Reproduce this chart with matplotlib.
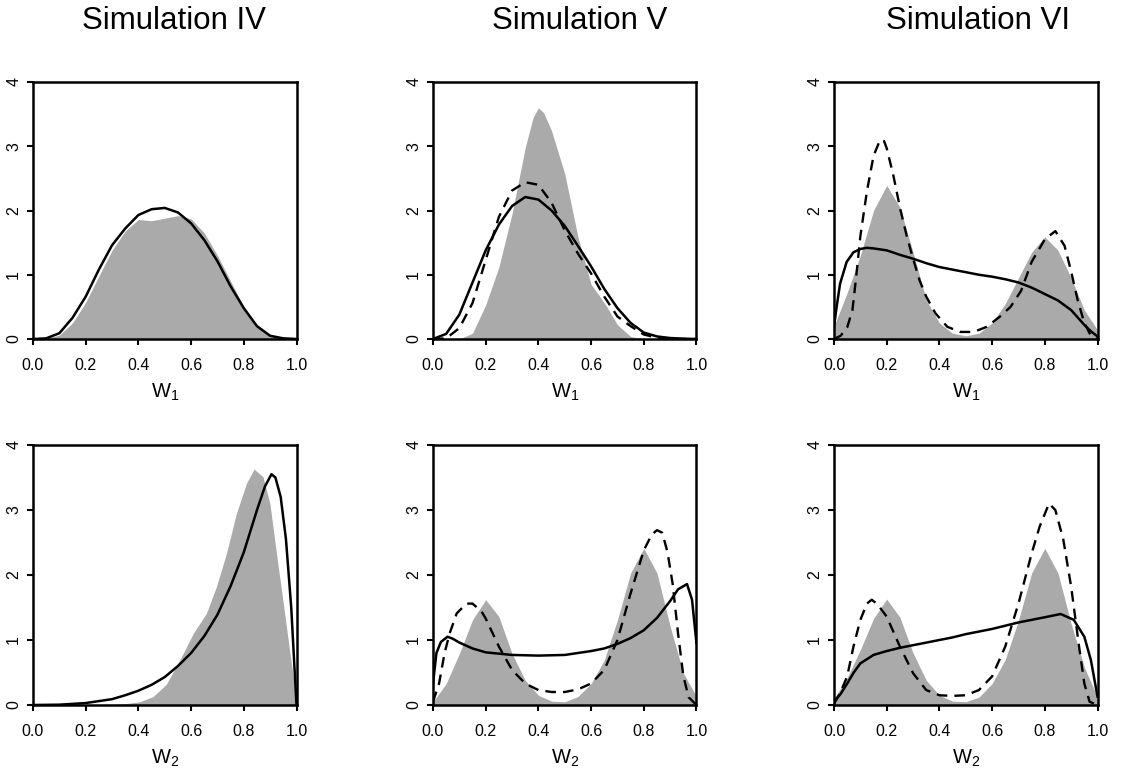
import numpy as np
import matplotlib
matplotlib.use("Agg")
import matplotlib.pyplot as plt

plt.rcParams['font.family'] = ['Liberation Sans', 'DejaVu Sans']
plt.rcParams['mathtext.default'] = 'regular'

titles = ["Simulation IV", "Simulation V", "Simulation VI"]
xlabels = ["W$_1$", "W$_2$"]
xticks = [0.0, 0.2, 0.4, 0.6, 0.8, 1.0]
xticklabels = ["0.0", "0.2", "0.4", "0.6", "0.8", "1.0"]
yticks = [0, 1, 2, 3, 4]

grid = [0, 0.05, 0.1, 0.15, 0.2, 0.25, 0.3, 0.35, 0.4, 0.45, 0.5,
        0.55, 0.6, 0.65, 0.7, 0.75, 0.8, 0.85, 0.9, 0.95, 1.0]

# Simulation IV, W1
iv1_fill = [0, 0.01, 0.06, 0.25, 0.57, 0.98, 1.38, 1.68, 1.86, 1.84, 1.88,
            1.92, 1.87, 1.65, 1.3, 0.9, 0.5, 0.2, 0.05, 0.01, 0]
iv1_solid = [0, 0.01, 0.09, 0.33, 0.66, 1.08, 1.46, 1.72, 1.93, 2.02, 2.04,
             1.97, 1.80, 1.54, 1.21, 0.82, 0.48, 0.20, 0.05, 0.01, 0]

# Simulation V, W1
v1_fill_x = [0, 0.1, 0.15, 0.2, 0.25, 0.3, 0.35, 0.38, 0.4, 0.42, 0.45, 0.5,
             0.55, 0.6, 0.63, 0.66, 0.7, 0.75, 0.8, 1.0]
v1_fill = [0, 0, 0.09, 0.53, 1.12, 1.95, 2.98, 3.45, 3.6, 3.52, 3.24, 2.57,
           1.59, 0.85, 0.68, 0.5, 0.22, 0.04, 0, 0]
v1_solid = [0, 0.08, 0.38, 0.88, 1.38, 1.78, 2.07, 2.21, 2.17, 2.0, 1.76,
            1.45, 1.13, 0.78, 0.48, 0.25, 0.10, 0.04, 0.015, 0.005, 0]
v1_dash = [0, 0.01, 0.17, 0.56, 1.23, 1.90, 2.31, 2.44, 2.40, 2.12, 1.69,
           1.33, 1.02, 0.66, 0.35, 0.2, 0.07, 0.02, 0, 0, 0]

# Simulation VI, W1
vi1_fill = [0.2, 0.72, 1.3, 2.0, 2.39, 2.05, 1.35, 0.61, 0.25, 0.09, 0.05,
            0.09, 0.25, 0.55, 0.95, 1.35, 1.59, 1.38, 0.95, 0.45, 0.14]
vi1_solid_x = [0, 0.01, 0.023, 0.048, 0.074, 0.1, 0.124, 0.15, 0.2, 0.25,
               0.3, 0.35, 0.4, 0.45, 0.5, 0.55, 0.6, 0.65, 0.7, 0.75, 0.8,
               0.85, 0.9, 0.95, 0.975, 1.0]
vi1_solid = [0.19, 0.5, 0.86, 1.2, 1.35, 1.4, 1.42, 1.41, 1.38, 1.31, 1.25,
             1.18, 1.12, 1.08, 1.04, 1.0, 0.97, 0.93, 0.88, 0.8, 0.7, 0.6,
             0.45, 0.22, 0.12, 0.04]
vi1_dash_x = [0, 0.025, 0.05, 0.07, 0.085, 0.1, 0.125, 0.15, 0.175, 0.19,
              0.2, 0.225, 0.25, 0.275, 0.3, 0.325, 0.35, 0.385, 0.43, 0.48,
              0.53, 0.58, 0.63, 0.67, 0.71, 0.75, 0.8, 0.84, 0.875, 0.9,
              0.925, 0.95, 0.975, 1.0]
vi1_dash = [0, 0.05, 0.18, 0.45, 1.0, 1.6, 2.3, 2.85, 3.1, 3.08, 2.97, 2.55,
            2.05, 1.62, 1.25, 0.91, 0.66, 0.4, 0.19, 0.11, 0.11, 0.19, 0.35,
            0.5, 0.75, 1.2, 1.55, 1.68, 1.45, 1.05, 0.6, 0.25, 0.05, 0]

# Simulation IV, W2
iv2_fill_x = [0, 0.3, 0.35, 0.405, 0.456, 0.506, 0.557, 0.608, 0.658, 0.696,
              0.734, 0.772, 0.81, 0.839, 0.873, 0.899, 0.924, 0.95, 0.975, 1.0]
iv2_fill = [0, 0.01, 0.02, 0.05, 0.13, 0.32, 0.69, 1.10, 1.41, 1.82, 2.33,
            2.95, 3.41, 3.63, 3.51, 3.1, 2.33, 1.56, 0.8, 0.08]
iv2_solid_x = [0, 0.1, 0.2, 0.3, 0.35, 0.4, 0.45, 0.5, 0.55, 0.6, 0.65, 0.7,
               0.75, 0.8, 0.85, 0.88, 0.905, 0.92, 0.94, 0.96, 0.98, 1.0]
iv2_solid = [0, 0.005, 0.03, 0.09, 0.15, 0.22, 0.31, 0.43, 0.6, 0.8, 1.06,
             1.39, 1.83, 2.35, 3.0, 3.36, 3.55, 3.5, 3.2, 2.55, 1.5, 0]

# Simulation V, W2
v2_fill = [0.05, 0.33, 0.79, 1.31, 1.62, 1.36, 0.79, 0.38, 0.15, 0.06, 0.05,
           0.13, 0.33, 0.69, 1.31, 2.03, 2.41, 2.03, 1.21, 0.49, 0.13]
v2_solid_x = [0, 0.013, 0.03, 0.055, 0.075, 0.1, 0.15, 0.2, 0.3, 0.4, 0.5,
              0.6, 0.65, 0.7, 0.75, 0.8, 0.85, 0.9, 0.93, 0.964, 0.983, 1.0]
v2_solid = [0.33, 0.8, 0.97, 1.05, 1.02, 0.96, 0.87, 0.81, 0.77, 0.76, 0.77,
            0.83, 0.87, 0.94, 1.03, 1.15, 1.34, 1.6, 1.78, 1.86, 1.62, 0.95]
v2_dash_x = [0, 0.023, 0.044, 0.063, 0.09, 0.127, 0.15, 0.184, 0.2, 0.25,
             0.3, 0.35, 0.4, 0.45, 0.5, 0.55, 0.6, 0.65, 0.7, 0.75, 0.8, 0.83,
             0.85, 0.87, 0.89, 0.91, 0.93, 0.95, 0.97, 1.0]
v2_dash = [0.05, 0.33, 0.8, 1.1, 1.41, 1.56, 1.56, 1.44, 1.33, 0.9, 0.54,
           0.33, 0.23, 0.2, 0.2, 0.24, 0.33, 0.54, 1.0, 1.72, 2.38, 2.62,
           2.69, 2.65, 2.35, 1.85, 1.1, 0.45, 0.12, 0]

# Simulation VI, W2
vi2_fill = [0.1, 0.42, 0.85, 1.33, 1.63, 1.35, 0.8, 0.38, 0.15, 0.06, 0.05,
            0.12, 0.33, 0.7, 1.3, 2.03, 2.41, 2.03, 1.25, 0.58, 0.12]
vi2_solid_x = [0, 0.025, 0.05, 0.075, 0.1, 0.15, 0.2, 0.25, 0.3, 0.35, 0.4,
               0.45, 0.5, 0.55, 0.6, 0.65, 0.7, 0.75, 0.8, 0.86, 0.91, 0.95,
               0.975, 1.0]
vi2_solid = [0.05, 0.17, 0.33, 0.5, 0.64, 0.77, 0.83, 0.88, 0.92, 0.96, 1.0,
             1.04, 1.09, 1.13, 1.17, 1.22, 1.27, 1.31, 1.35, 1.4, 1.31, 1.05,
             0.69, 0.13]
vi2_dash_x = [0, 0.023, 0.05, 0.074, 0.1, 0.125, 0.143, 0.165, 0.2, 0.25,
              0.3, 0.35, 0.4, 0.45, 0.5, 0.55, 0.6, 0.65, 0.7, 0.75, 0.78,
              0.816, 0.84, 0.87, 0.9, 0.93, 0.95, 0.97, 1.0]
vi2_dash = [0.02, 0.18, 0.44, 0.9, 1.31, 1.56, 1.62, 1.55, 1.36, 0.9, 0.49,
            0.23, 0.15, 0.14, 0.15, 0.23, 0.44, 0.9, 1.56, 2.33, 2.74, 3.1,
            3.0, 2.55, 1.82, 0.9, 0.33, 0.05, 0]

panels = [
    [(grid, iv1_fill, grid, iv1_solid, None, None),
     (v1_fill_x, v1_fill, grid, v1_solid, grid, v1_dash),
     (grid, vi1_fill, vi1_solid_x, vi1_solid, vi1_dash_x, vi1_dash)],
    [(iv2_fill_x, iv2_fill, iv2_solid_x, iv2_solid, None, None),
     (grid, v2_fill, v2_solid_x, v2_solid, v2_dash_x, v2_dash),
     (grid, vi2_fill, vi2_solid_x, vi2_solid, vi2_dash_x, vi2_dash)],
]

W, H = 1121, 774
fig = plt.figure(figsize=(W / 100, H / 100), dpi=100)

lefts = [33, 433, 834]
rows = [(82, 339), (445, 705)]
title_x = [174, 580, 978]

for r in range(2):
    top, bot = rows[r]
    for c in range(3):
        ax = fig.add_axes([lefts[c] / W, 1 - bot / H, 263.5 / W, (bot - top) / H])
        fx, fy, sx, sy, dx, dy = panels[r][c]
        ax.fill_between(fx, fy, 0, color='#AAAAAA', lw=0)
        if dx is not None:
            ax.plot(dx, dy, color='black', lw=1.7, ls=(0, (4.5, 3)),
                    solid_joinstyle='round', dash_joinstyle='round')
        ax.plot(sx, sy, color='black', lw=1.8, solid_joinstyle='round')
        ax.set_xlim(0, 1)
        ax.set_ylim(0, 4)
        ax.set_xticks(xticks)
        ax.set_xticklabels(xticklabels)
        ax.set_yticks(yticks)
        ax.set_yticklabels([str(v) for v in yticks], rotation=90, va='center')
        ax.tick_params(direction='out', length=4.5, width=1.5, labelsize=11.5)
        ax.tick_params(axis='x', pad=9.5)
        ax.tick_params(axis='y', pad=4)
        for s in ax.spines.values():
            s.set_linewidth(1.8)
        ax.set_xlabel(xlabels[r], fontsize=14.5, labelpad=6)
        if r == 0:
            fig.text(title_x[c] / W, 1 - 29.3 / H, titles[c], fontsize=22.5,
                     ha='center', va='baseline')

fig.savefig("out.png", dpi=100)
